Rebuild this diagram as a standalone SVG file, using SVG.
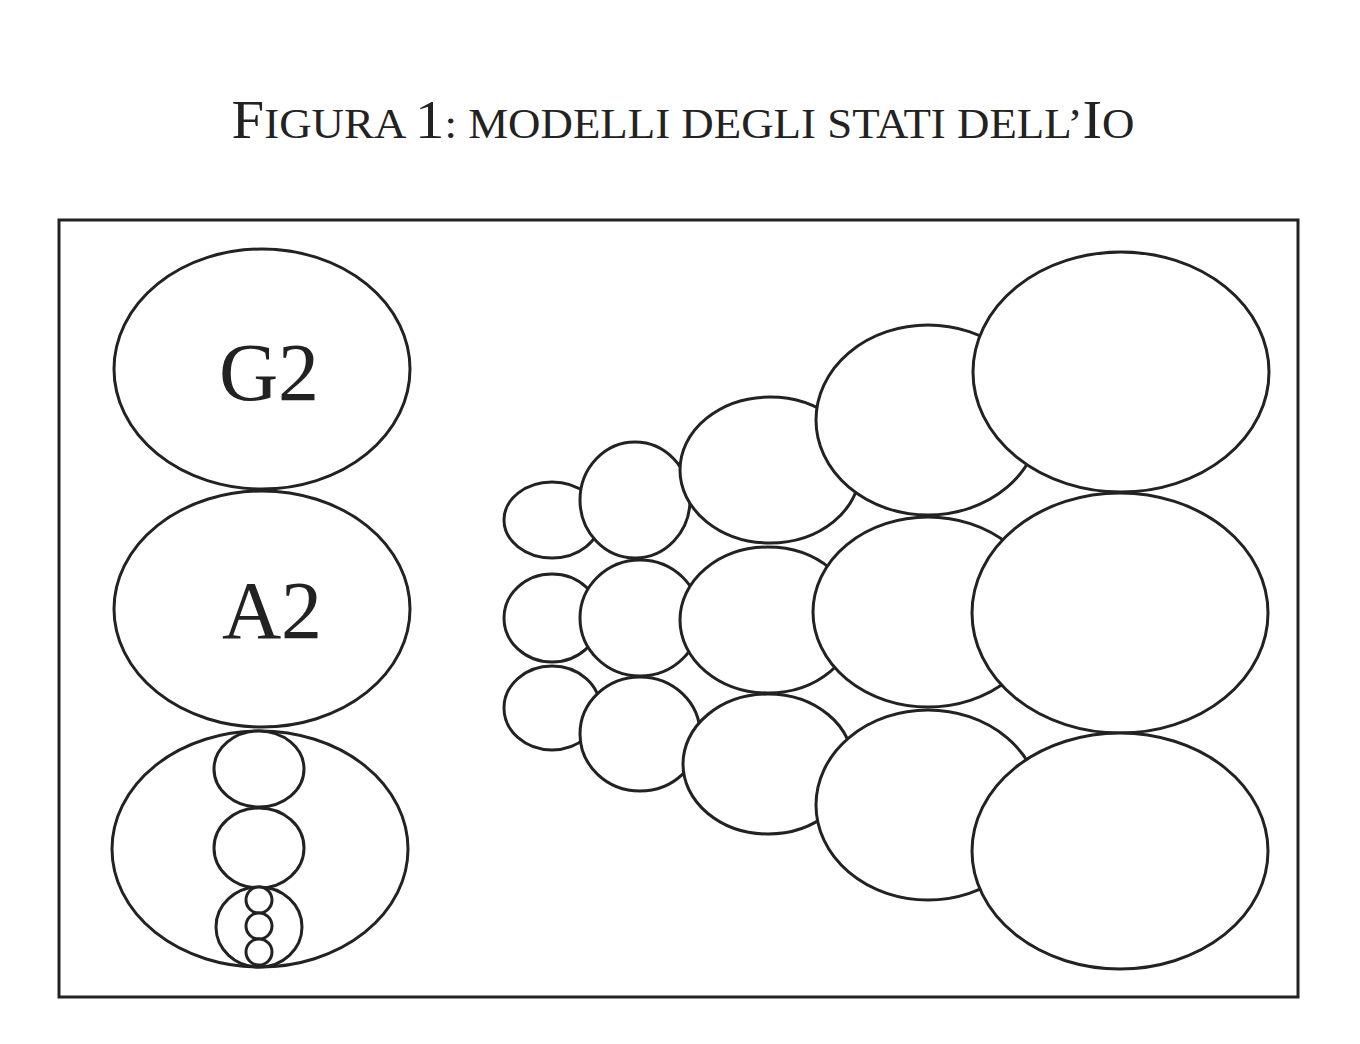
<svg xmlns="http://www.w3.org/2000/svg" width="1360" height="1044" viewBox="0 0 1360 1044">
<style>
.e{fill:#fff;stroke:#222;stroke-width:3}
.t{font-family:"Liberation Serif",serif;fill:#222}
</style>
<rect width="1360" height="1044" fill="#fff"/>
<text class="t" x="683" y="138" text-anchor="middle" font-size="42" textLength="903" lengthAdjust="spacingAndGlyphs"><tspan font-size="55">F</tspan>IGURA <tspan font-size="55">1</tspan>: MODELLI DEGLI STATI DELL’<tspan font-size="55">I</tspan>O</text>
<rect x="59" y="220" width="1239" height="777" fill="none" stroke="#222" stroke-width="3"/>
<g id="G2"><ellipse class="e" cx="262" cy="369" rx="148" ry="120"/><text class="t" x="269" y="400" text-anchor="middle" font-size="82">G2</text></g>
<g id="A2"><ellipse class="e" cx="262" cy="609" rx="148" ry="118"/><text class="t" x="272" y="638" text-anchor="middle" font-size="82">A2</text></g>
<g id="B"><ellipse class="e" cx="260" cy="849" rx="148" ry="118"/>
<ellipse class="e" cx="259" cy="769" rx="45" ry="38"/>
<ellipse class="e" cx="259" cy="848" rx="45" ry="40"/>
<ellipse class="e" cx="259" cy="927" rx="43" ry="40"/>
<circle class="e" cx="259" cy="900" r="13"/><circle class="e" cx="259" cy="926" r="13"/><circle class="e" cx="259" cy="952" r="13"/></g>
<g id="grid">
<ellipse class="e" cx="552" cy="520" rx="48" ry="38"/>
<ellipse class="e" cx="552" cy="618" rx="48" ry="44"/>
<ellipse class="e" cx="552" cy="708" rx="48" ry="42"/>
<ellipse class="e" cx="635" cy="500" rx="55" ry="58"/>
<ellipse class="e" cx="640" cy="618" rx="60" ry="58"/>
<ellipse class="e" cx="640" cy="734" rx="60" ry="57"/>
<ellipse class="e" cx="770" cy="470" rx="90" ry="73"/>
<ellipse class="e" cx="768" cy="620" rx="88" ry="73"/>
<ellipse class="e" cx="768" cy="764" rx="85" ry="70"/>
<ellipse class="e" cx="928" cy="420" rx="112" ry="95"/>
<ellipse class="e" cx="928" cy="612" rx="115" ry="95"/>
<ellipse class="e" cx="928" cy="805" rx="112" ry="95"/>
<ellipse class="e" cx="1121" cy="372" rx="148" ry="120"/>
<ellipse class="e" cx="1120" cy="613" rx="148" ry="120"/>
<ellipse class="e" cx="1120" cy="851" rx="148" ry="118"/>
</g>
</svg>
